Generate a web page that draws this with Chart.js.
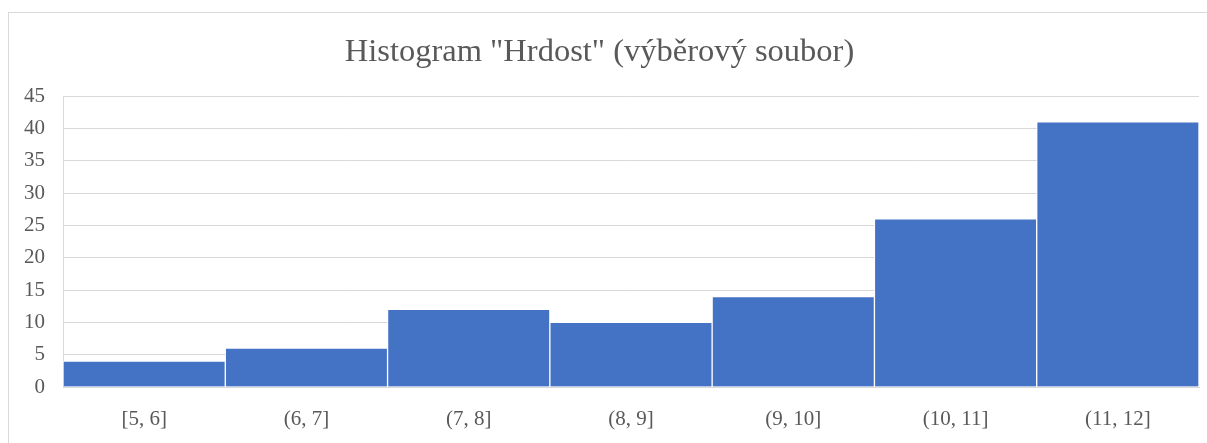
<!DOCTYPE html>
<html>
<head>
<meta charset="utf-8">
<script src="https://cdn.jsdelivr.net/npm/chart.js@4.4.0/dist/chart.umd.min.js"></script>
<style>
  html, body { margin: 0; padding: 0; background: #fff; }
  #wrap { position: relative; width: 1207px; height: 443px; }
</style>
</head>
<body>
<div id="wrap"><canvas id="myChart" width="1207" height="443"></canvas></div>
<script>
// histogram bins and counts
let categories = ["[5, 6]", "(6, 7]", "(7, 8]", "(8, 9]", "(9, 10]", "(10, 11]", "(11, 12]"];
let counts = [4, 6, 12, 10, 14, 26, 41];
let yTicks = [0, 5, 10, 15, 20, 25, 30, 35, 40, 45];

let serif = "'Liberation Serif', 'Times New Roman', serif";
let textGray = '#595959';

// outer chart frame (light grey, like the Excel chart border)
let framePlugin = {
  id: 'frame',
  beforeDraw: function (chart) {
    let ctx = chart.ctx;
    ctx.save();
    ctx.fillStyle = '#fff';
    ctx.fillRect(0, 0, chart.width, chart.height);
    ctx.strokeStyle = '#d9d9d9';
    ctx.lineWidth = 1;
    ctx.strokeRect(8.5, 12.5, 1400, 600);
    ctx.restore();
  }
};

let ctx = document.getElementById('myChart').getContext('2d');
let chart = new Chart(ctx, {
  type: 'bar',
  data: {
    labels: categories,
    datasets: [{
      data: counts,
      backgroundColor: '#4472c4',
      borderColor: '#ffffff',
      borderWidth: 1,
      borderSkipped: 'bottom',
      barPercentage: 1,
      categoryPercentage: 1
    }]
  },
  options: {
    responsive: false,
    animation: false,
    layout: { padding: { left: 0, right: 8, top: 33, bottom: 0 } },
    plugins: {
      legend: { display: false },
      tooltip: { enabled: false },
      title: {
        display: true,
        text: 'Histogram "Hrdost" (výběrový soubor)',
        color: textGray,
        font: { family: serif, size: 32.5, weight: 'normal' },
        padding: { top: 0, bottom: 24 }
      }
    },
    scales: {
      x: {
        grid: { display: false, drawTicks: false },
        border: { display: true, color: '#d9d9d9' },
        ticks: { color: textGray, font: { family: serif, size: 21 }, padding: 20 },
        afterFit: function (scale) { scale.height = 56; }
      },
      y: {
        min: 0,
        max: 45,
        afterBuildTicks: function (scale) {
          scale.ticks = yTicks.map(v => ({ value: v }));
        },
        grid: { color: '#d9d9d9', drawTicks: false },
        border: { display: true, color: '#d9d9d9' },
        ticks: { color: textGray, font: { family: serif, size: 21 }, padding: 18 },
        afterFit: function (scale) { scale.width = 63; }
      }
    }
  },
  plugins: [framePlugin]
});
</script>
</body>
</html>
